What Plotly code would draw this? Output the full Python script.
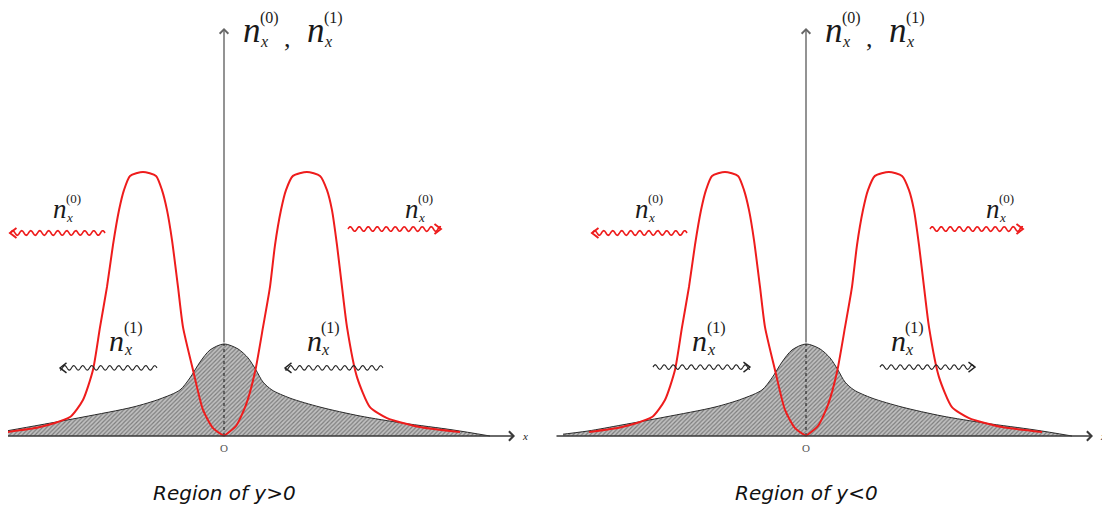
import math
import plotly.graph_objects as go

# ---------------- data (axis units: x = position, y = density) ----------------
red_left_x = [-2.646, -2.244, -1.878, -1.720, -1.598, -1.512, -1.427, -1.354, -1.280, -1.220,
              -1.146, -0.988, -0.829, -0.756, -0.695, -0.634, -0.561, -0.500, -0.378, -0.256,
              -0.134, 0.0]
red_left_y = [0.015, 0.034, 0.072, 0.137, 0.251, 0.414, 0.567, 0.726, 0.859, 0.935,
              0.989, 1.004, 0.989, 0.935, 0.859, 0.745, 0.567, 0.414, 0.251, 0.099,
              0.030, 0.0]
red_right_x = [0.0, 0.146, 0.268, 0.378, 0.476, 0.561, 0.622, 0.695, 0.756, 0.841, 1.012,
               1.171, 1.256, 1.317, 1.378, 1.439, 1.500, 1.622, 1.780, 1.988, 2.390, 2.878]
red_right_y = [0.0, 0.038, 0.118, 0.243, 0.414, 0.567, 0.726, 0.859, 0.935, 0.989, 1.004,
               0.989, 0.935, 0.859, 0.726, 0.567, 0.414, 0.224, 0.110, 0.068, 0.034, 0.015]

gray_x = [-2.659, -2.244, -1.720, -1.110, -0.780, -0.537, -0.415, -0.293, -0.171, 0.0,
          0.171, 0.293, 0.390, 0.476, 0.585, 0.805, 1.171, 1.659, 2.183, 2.793, 3.244]
gray_y = [0.019, 0.042, 0.072, 0.110, 0.141, 0.175, 0.221, 0.281, 0.327, 0.350,
          0.331, 0.297, 0.251, 0.205, 0.175, 0.144, 0.110, 0.076, 0.049, 0.023, 0.0]
gray_right_start_x = [-3.04]
gray_right_start_y = [0.004]

panel_titles = ["Region of y>0", "Region of y<0"]
sup_labels = ["(0)", "(1)"]

# wavy arrows per panel: (tail_x, head_x, y, kind)
waves_left = [(-1.451, -2.610, 0.772, 0), (1.512, 2.646, 0.787, 0),
              (-0.817, -2.000, 0.259, 1), (1.939, 0.744, 0.259, 1)]
waves_right = [(-1.451, -2.610, 0.772, 0), (1.512, 2.646, 0.787, 0),
               (-1.866, -0.683, 0.262, 1), (0.902, 2.061, 0.262, 1)]
# labels per panel: (x, y, kind)
labels_left = [(-2.0, 0.863, 0), (2.29, 0.863, 0), (-1.305, 0.365, 1), (1.098, 0.365, 1)]
labels_right = [(-2.0, 0.863, 0), (2.28, 0.863, 0), (-1.293, 0.365, 1), (1.122, 0.365, 1)]

# ---------------- figure ----------------
PX_X = 82.0   # pixels per x unit
PX_Y = 263.0  # pixels per y unit
OFF = 8       # page body margin offset
base = 436 - OFF
yr = [-(514 - base) / PX_Y, base / PX_Y]
o_left = 224 - OFF
o_right = 806 - OFF
xr_left = [-o_left / PX_X, (555 - o_left) / PX_X]
xr_right = [-(o_right - 555) / PX_X, (1110 - o_right) / PX_X]

RED = "#ee1c1c"
DARK = "#222222"
SERIF = "Liberation Serif, Times New Roman, Times, serif"

fig = go.Figure()


def add_panel(xa, ya, gx, gy):
    fig.add_trace(go.Scatter(x=gx, y=gy, xaxis=xa, yaxis=ya, mode="lines",
                             line=dict(color="#2a2a2a", width=1, shape="spline", smoothing=0.8),
                             fill="tozeroy",
                             fillpattern=dict(shape="/", bgcolor="#c0c0c0", fgcolor="#3a3a3a",
                                              size=3, solidity=0.4),
                             hoverinfo="skip"))
    fig.add_trace(go.Scatter(x=[0, 0], y=[0, max(gy)], xaxis=xa, yaxis=ya, mode="lines",
                             line=dict(color="#111111", width=1, dash="dot"), hoverinfo="skip"))
    for rx, ry in ((red_left_x, red_left_y), (red_right_x, red_right_y)):
        fig.add_trace(go.Scatter(x=rx, y=ry, xaxis=xa, yaxis=ya, mode="lines",
                                 line=dict(color=RED, width=2, shape="spline", smoothing=0.6),
                                 hoverinfo="skip"))


add_panel("x", "y", gray_x, gray_y)
add_panel("x2", "y2", gray_right_start_x + gray_x, gray_right_start_y + gray_y)

annotations = []
shapes = []


def axis_arrows(xref, yref, x0, x1, gtop):
    annotations.append(dict(x=x1, y=0, ax=x0, ay=0, xref=xref, yref=yref, axref=xref, ayref=yref,
                            text="", showarrow=True, arrowhead=4, arrowsize=1.2, arrowwidth=1.5,
                            arrowcolor="#3a3a3a"))
    annotations.append(dict(x=0, y=408 / PX_Y, ax=0, ay=gtop, xref=xref, yref=yref, axref=xref,
                            ayref=yref, text="", showarrow=True, arrowhead=4, arrowsize=1.2,
                            arrowwidth=1.4, arrowcolor="#666666"))


def wave(xref, yref, x0, x1, y, color, width):
    wl = 9.0 / PX_X
    amp = 2.3 / PX_Y
    L = abs(x1 - x0)
    n = max(int(L / wl * 10), 2)
    pts = []
    for i in range(n + 1):
        t = i / n
        xx = x0 + (x1 - x0) * t
        yy = y + amp * math.sin(2 * math.pi * (L * t) / wl)
        pts.append(f"{xx:.4f},{yy:.5f}")
    shapes.append(dict(type="path", xref=xref, yref=yref, path="M" + " L".join(pts),
                       line=dict(color=color, width=width)))
    s = 1 if x1 > x0 else -1
    hx = 6.5 / PX_X
    hy = 5.0 / PX_Y
    head = f"M{x1 - s*hx:.4f},{y + hy:.5f} L{x1:.4f},{y:.5f} L{x1 - s*hx:.4f},{y - hy:.5f}"
    shapes.append(dict(type="path", xref=xref, yref=yref, path=head,
                       line=dict(color=color, width=width + 0.3)))


def n_label(xref, yref, x, y, sup, S, s, color="#1a1a1a", sup_dy=0.4):
    annotations.append(dict(x=x, y=y, xref=xref, yref=yref, text="<i>n</i>", showarrow=False,
                            xanchor="center", yanchor="middle", borderpad=0,
                            font=dict(family=SERIF, size=S, color=color)))
    annotations.append(dict(x=x, y=y, xref=xref, yref=yref, text=sup, showarrow=False,
                            xanchor="left", yanchor="middle", xshift=0.2 * S, yshift=sup_dy * S,
                            borderpad=0, font=dict(family=SERIF, size=s, color=color)))
    annotations.append(dict(x=x, y=y, xref=xref, yref=yref, text="<i>x</i>", showarrow=False,
                            xanchor="left", yanchor="middle", xshift=0.2 * S, yshift=-0.33 * S,
                            borderpad=0, font=dict(family=SERIF, size=s, color=color)))


for (xref, yref, x0, x1, waves, labels, title) in [
        ("x", "y", -2.66, 3.549, waves_left, labels_left, panel_titles[0]),
        ("x2", "y2", -3.061, 3.50, waves_right, labels_right, panel_titles[1])]:
    axis_arrows(xref, yref, x0, x1, max(gray_y))
    for (tx, hx_, wy, kind) in waves:
        if kind == 0:
            wave(xref, yref, tx, hx_, wy, RED, 1.6)
        else:
            wave(xref, yref, tx, hx_, wy, DARK, 1.1)
    for (lx, ly, kind) in labels:
        if kind == 0:
            n_label(xref, yref, lx, ly, sup_labels[0], 27, 13)
        else:
            n_label(xref, yref, lx, ly, sup_labels[1], 30, 16)
    n_label(xref, yref, 27.5 / PX_X, 406 / PX_Y, sup_labels[0], 35, 16, sup_dy=0.34)
    annotations.append(dict(x=63 / PX_X, y=398 / PX_Y, xref=xref, yref=yref, text=",",
                            showarrow=False, font=dict(family=SERIF, size=26, color="#1a1a1a")))
    n_label(xref, yref, 92 / PX_X, 406 / PX_Y, sup_labels[1], 35, 16, sup_dy=0.34)
    annotations.append(dict(x=0, y=-12 / PX_Y, xref=xref, yref=yref, text="O", showarrow=False,
                            font=dict(family=SERIF, size=11, color="#555555")))
    annotations.append(dict(x=x1 + 10 / PX_X, y=0, xref=xref, yref=yref, text="<i>x</i>",
                            showarrow=False, font=dict(family=SERIF, size=11, color="#222222")))
    annotations.append(dict(x=0, y=-57 / PX_Y, xref=xref, yref=yref,
                            text="<i>" + title.replace(">", "&gt;").replace("<", "&lt;") + "</i>",
                            showarrow=False, font=dict(family="DejaVu Sans", size=20, color="#111111")))

ax_common = dict(visible=False, showgrid=False, zeroline=False, fixedrange=True)
fig.update_layout(
    width=1110, height=514,
    margin=dict(l=0, r=0, t=0, b=0),
    paper_bgcolor="white", plot_bgcolor="white",
    showlegend=False,
    xaxis=dict(domain=[0, 0.5], range=xr_left, anchor="y", **ax_common),
    xaxis2=dict(domain=[0.5, 1], range=xr_right, anchor="y2", **ax_common),
    yaxis=dict(domain=[0, 1], range=yr, anchor="x", **ax_common),
    yaxis2=dict(domain=[0, 1], range=yr, anchor="x2", **ax_common),
    annotations=annotations,
    shapes=shapes,
)

fig.write_html("out.html")
